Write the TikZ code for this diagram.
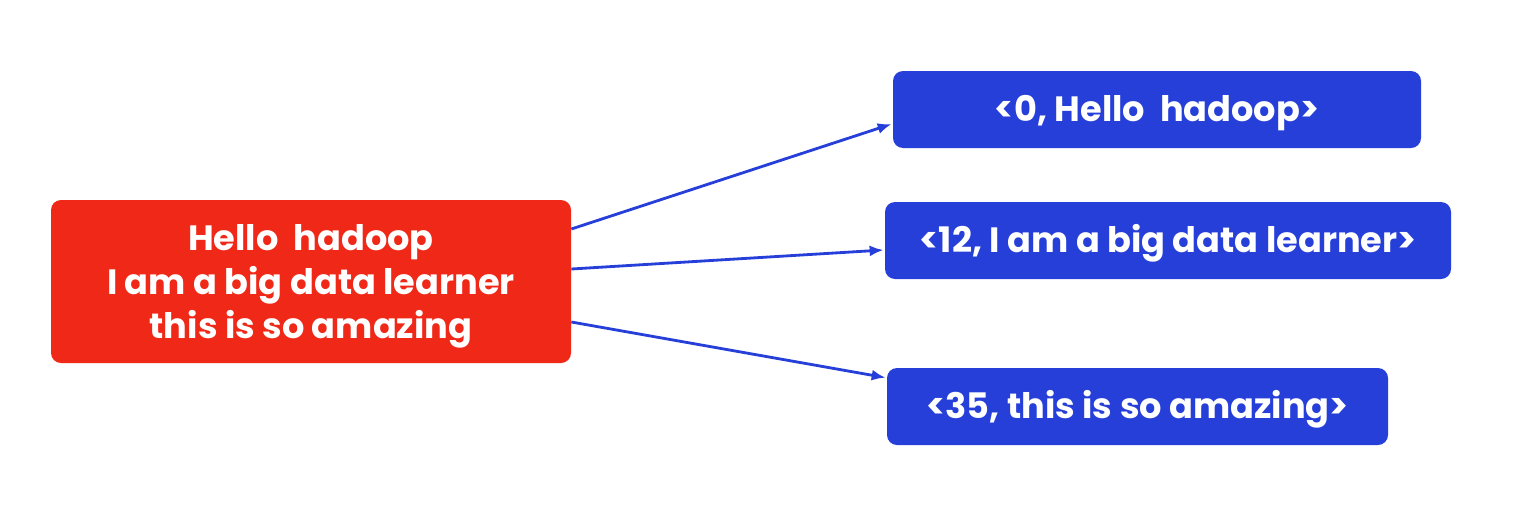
\documentclass[tikz,border=0pt]{standalone}
\usepackage{fontspec}
\setmainfont{Poppins}
\usetikzlibrary{arrows.meta}

\definecolor{linered}{HTML}{F02818}
\definecolor{recblue}{HTML}{263FD9}

\begin{document}
\begin{tikzpicture}[
  linebox/.style={rectangle,rounded corners=0.2cm,fill=linered,text=white,
    font=\fontsize{20}{25}\selectfont\bfseries,align=center,text depth=0pt,
    minimum width=10.4cm,minimum height=3.26cm,inner sep=0pt},
  recbox/.style={rectangle,rounded corners=0.2cm,fill=recblue,text=white,
    font=\fontsize{20}{25}\selectfont\bfseries,text height=14pt,text depth=0pt,
    minimum height=1.54cm,inner sep=0pt},
  split/.style={draw=recblue,line width=1.6pt,-{Latex[length=2.8mm,width=2.2mm]}}
]
  \useasboundingbox (0,0) rectangle (30.52,10.58);

  \draw (6.22,4.95) node[linebox] (lines) {Hello~ hadoop\\I am a big data learner\\this is so amazing};

  \draw (23.14,8.39) node[recbox,minimum width=10.56cm] (r0) {<0, Hello~ hadoop>};
  \draw (23.36,5.77) node[recbox,minimum width=11.32cm] (r12) {<12, I am a big data learner>};
  \draw (22.75,2.45) node[recbox,minimum width=10.02cm] (r35) {<35, this is so amazing>};

  \draw[split] ([yshift=1.05cm]lines.east) -- ([yshift=-0.29cm,xshift=-0.02cm]r0.west);
  \draw[split] ([yshift=0.25cm]lines.east) -- ([yshift=-0.19cm,xshift=-0.02cm]r12.west);
  \draw[split] ([yshift=-0.81cm]lines.east) -- ([yshift=-0.2cm,xshift=-0.02cm]r35.north west);

\end{tikzpicture}
\end{document}
